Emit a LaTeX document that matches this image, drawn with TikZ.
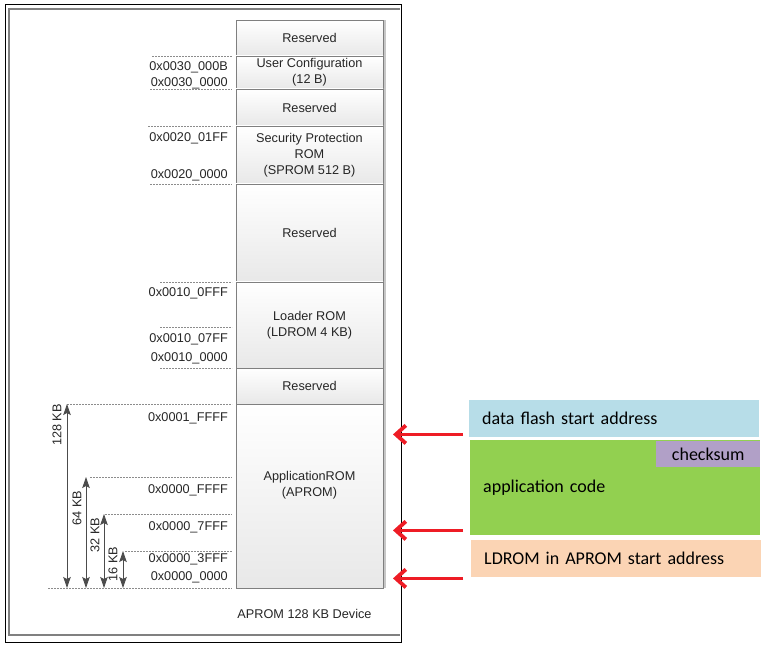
\documentclass[tikz,border=0pt]{standalone}
\usepackage{fontspec}
\setmainfont{Liberation Sans}
\newfontfamily\calibri{Carlito}
\usetikzlibrary{shapes,shadows,arrows,arrows.meta,positioning}
\definecolor{flashblue}{HTML}{B7DDE8}
\definecolor{codegreen}{HTML}{92D050}
\definecolor{sumpurple}{HTML}{B1A0C7}
\definecolor{ldpeach}{HTML}{FBD4B4}
\definecolor{regionline}{HTML}{7F7F7F}
\definecolor{arrowred}{HTML}{EE1C25}

\begin{document}
\begin{tikzpicture}[x=1pt,y=-1pt,>={Stealth[length=11pt,width=7.5pt,inset=2pt]},
  font=\fontsize{12.7}{16}\selectfont]
  \tikzstyle{region}=[draw=regionline, top color=white, bottom color=black!9,
    minimum width=147pt, inner sep=0pt, outer sep=0pt, align=center, text=black!85,
    drop shadow={shadow xshift=2.5pt, shadow yshift=0pt, fill=black!22, opacity=1}]
  \tikzstyle{guide}=[draw=black!45, dash pattern=on 2pt off 1pt, line width=0.6pt]
  \tikzstyle{addr}=[anchor=base east, inner sep=0pt, text=black!85]
  \tikzstyle{span}=[<->, draw=black!70, line width=0.9pt]
  \tikzstyle{note}=[anchor=north west, inner xsep=13pt, inner ysep=0pt,
    text width=264pt, minimum height=37pt, align=left,
    font=\calibri\fontsize{18}{21}\selectfont, text=black]
  \tikzstyle{redarrow}=[-{Straight Barb[length=10pt,width=18pt]}, draw=arrowred,
    line width=3.8pt]

  \useasboundingbox (0,0) rectangle (766,647);

  % frame
  \draw[black!50, line width=2pt] (400,9) -- (9,9) -- (9,635) -- (400,635);
  \draw[black, line width=1pt] (5,5) rectangle (401,642);

  % memory map
  \node[region, minimum height=36pt, anchor=north west] (rsv1) at (236,20) {Reserved};
  \node[region, minimum height=33pt, below=0pt of rsv1] (ucfg) {User Configuration\\(12 B)};
  \node[region, minimum height=37pt, below=0pt of ucfg] (rsv2) {Reserved};
  \node[region, minimum height=58pt, below=0pt of rsv2] (sprom) {Security Protection\\ROM\\(SPROM 512 B)};
  \node[region, minimum height=98pt, below=0pt of sprom] (rsv3) {Reserved};
  \node[region, minimum height=86pt, below=0pt of rsv3] (ldrom) {Loader ROM\\(LDROM 4 KB)};
  \node[region, minimum height=36pt, below=0pt of ldrom] (rsv4) {Reserved};
  \node[region, minimum height=184pt, below=0pt of rsv4] (aprom) {};
  \node[align=center, text=black!85] (aprom-text) at ([yshift=11pt]aprom.center)
    {ApplicationROM\\(APROM)};

  \foreach \y/\x in {56/152, 89/150, 126/148, 184/150, 282/160, 327/160, 368/160,
                     404/67, 477/90, 514/105, 551/125, 588/48}
    \draw[guide] (\x,\y) -- (232,\y);

  \foreach \y/\a [count=\i] in {70.5/0x0030\_000B, 87/0x0030\_0000, 141.5/0x0020\_01FF,
      179/0x0020\_0000, 296.5/0x0010\_0FFF, 342.5/0x0010\_07FF, 361/0x0010\_0000,
      421/0x0001\_FFFF, 493/0x0000\_FFFF, 530/0x0000\_7FFF, 562/0x0000\_3FFF,
      580.5/0x0000\_0000}
    \node[addr] (addr\i) at (228,\y) {\a};

  % sizes
  \foreach \x/\t/\kb/\lx/\ly in {67/404/128/57/425, 86/477/64/77/508,
                                 104/514/32/95/535, 123/551/16/113/564}
  {
    \coordinate (top\kb) at (\x,\t);
    \coordinate (bot\kb) at (\x,588);
    \draw[span] (top\kb) -- (bot\kb);
    \node[rotate=90, inner sep=0pt, text=black!85] (kb\kb) at (\lx,\ly) {\kb{} KB};
  }

  \node[anchor=base, text=black!85] (caption) at (304.5,618) {APROM 128 KB Device};

  % APROM layout
  \node[note, fill=flashblue] (dflash) at (469,400) {data flash start address};
  \node[note, fill=codegreen, minimum height=95pt] (appcode) at (470,440) {application code};
  \node[fill=sumpurple, minimum width=104pt, minimum height=26pt, inner sep=0pt,
    anchor=north east, font=\calibri\fontsize{18}{21}\selectfont] (chksum)
    at ([yshift=-1pt]appcode.north east) {checksum};
  \node[note, fill=ldpeach] (ldaprom) at (471,540) {LDROM in APROM start address};

  \draw[redarrow] ([shift={(-6,-3)}]dflash.south west) -- ++(-70,0);
  \draw[redarrow] ([shift={(-7,-5)}]appcode.south west) -- ++(-70,0);
  \draw[redarrow] ([shift={(-8,1)}]ldaprom.south west) -- ++(-70,0);
\end{tikzpicture}
\end{document}
